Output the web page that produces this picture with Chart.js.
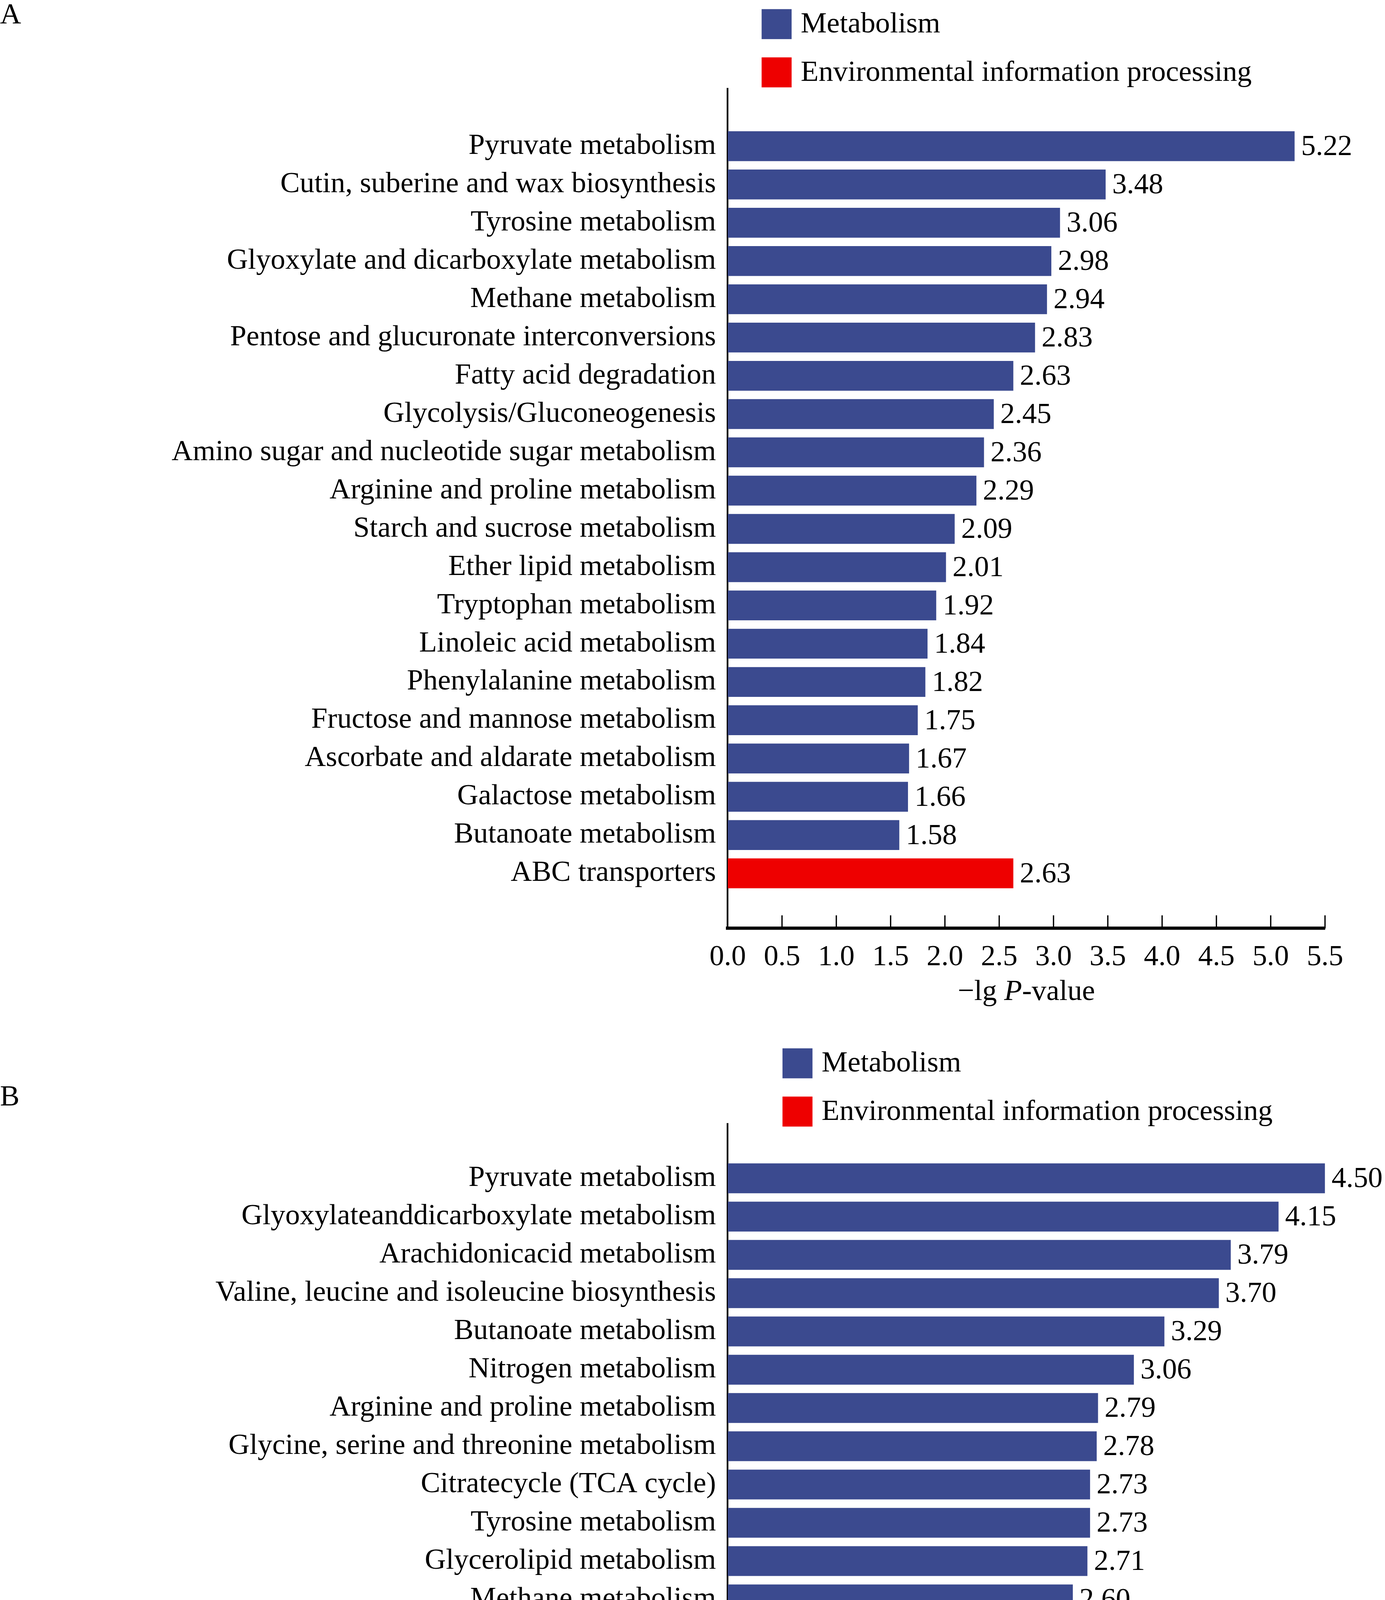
<!DOCTYPE html>
<html><head><meta charset="utf-8">
<script src="https://cdn.jsdelivr.net/npm/chart.js@4"></script>
<style>body{margin:0;background:#fff}canvas{position:absolute;left:0}</style>
</head><body>
<canvas id="cA" style="top:0"></canvas>
<canvas id="cB"></canvas>
<script>
const categoriesA=["Pyruvate metabolism","Cutin, suberine and wax biosynthesis","Tyrosine metabolism","Glyoxylate and dicarboxylate metabolism","Methane metabolism","Pentose and glucuronate interconversions","Fatty acid degradation","Glycolysis/Gluconeogenesis","Amino sugar and nucleotide sugar metabolism","Arginine and proline metabolism","Starch and sucrose metabolism","Ether lipid metabolism","Tryptophan metabolism","Linoleic acid metabolism","Phenylalanine metabolism","Fructose and mannose metabolism","Ascorbate and aldarate metabolism","Galactose metabolism","Butanoate metabolism","ABC transporters"];
const metabolismA=[5.22,3.48,3.06,2.98,2.94,2.83,2.63,2.45,2.36,2.29,2.09,2.01,1.92,1.84,1.82,1.75,1.67,1.66,1.58,null];
const environmentA=[null,null,null,null,null,null,null,null,null,null,null,null,null,null,null,null,null,null,null,2.63];
const categoriesB=["Pyruvate metabolism","Glyoxylateanddicarboxylate metabolism","Arachidonicacid metabolism","Valine, leucine and isoleucine biosynthesis","Butanoate metabolism","Nitrogen metabolism","Arginine and proline metabolism","Glycine, serine and threonine metabolism","Citratecycle (TCA cycle)","Tyrosine metabolism","Glycerolipid metabolism","Methane metabolism","Tryptophan metabolism","Phenylalanine metabolism","Glycolysis/Gluconeogenesis","Linoleic acid metabolism","Ether lipid metabolism","Biosynthesis of siderophore group nonribosomal peptides","Valine, leucine and isoleucine degradation","ABC transporters"];
const metabolismB=[4.50,4.15,3.79,3.70,3.29,3.06,2.79,2.78,2.73,2.73,2.71,2.60,2.51,2.31,2.27,2.26,2.15,1.98,1.76,null];
const environmentB=[null,null,null,null,null,null,null,null,null,null,null,null,null,null,null,null,null,null,null,2.44];
const seriesNames=["Metabolism","Environmental information processing"];
const colors=["#3B4A8F","#EE0000"];

const S=3545/1062;
const FS=22.4*S;
const FONT=`${FS}px "Liberation Serif"`;
function toPts(arr){return arr.map((v,i)=>v==null?null:{x:v,y:i}).filter(p=>p);}

function panel(id,cfg){
  const cv=document.getElementById(id);
  cv.width=Math.round(1062*S);cv.height=Math.round(cfg.h*S);
  cv.style.top=Math.round(cfg.top*S)+'px';
  const deco={id:'deco',afterDraw(ch){
    const c=ch.ctx;c.save();c.fillStyle='#000';c.strokeStyle='#000';
    c.font=FONT;c.textBaseline='middle';c.textAlign='left';
    c.fillText(cfg.letter,0,cfg.letterY*S);
    seriesNames.forEach((n,i)=>{
      const y=(cfg.legY+i*37)*S;
      c.fillStyle=colors[i];c.fillRect(cfg.legX*S,y,23*S,23*S);
      c.fillStyle='#000';c.fillText(n,(cfg.legX+30)*S,y+12*S);
    });
    ch.data.datasets.forEach((ds,di)=>{
      ch.getDatasetMeta(di).data.forEach((el,k)=>{
        c.fillText(ds.data[k].x.toFixed(2),el.x+5*S,el.y+1*S);
      });
    });
    const xs=ch.scales.x,b=ch.chartArea.bottom;
    c.lineWidth=1*S;
    for(let v=0.5;v<=cfg.xMax+1e-9;v+=0.5){
      const px=xs.getPixelForValue(v);
      c.beginPath();c.moveTo(px,b);c.lineTo(px,b-10*S);c.stroke();
    }
    const ty=cfg.titleY*S;
    const p1='\u2212lg ',p2='P',p3='-value';
    const itf=`italic ${FS}px "Liberation Serif"`;
    const w1=c.measureText(p1).width,w3=c.measureText(p3).width;
    c.font=itf;const w2=c.measureText(p2).width;
    let x0=(ch.chartArea.left+ch.chartArea.right)/2-(w1+w2+w3)/2;
    c.font=FONT;c.fillText(p1,x0,ty);
    c.font=itf;c.fillText(p2,x0+w1,ty);
    c.font=FONT;c.fillText(p3,x0+w1+w2,ty);
    c.restore();
  }};
  new Chart(cv,{type:'bar',
    data:{datasets:[
      {label:seriesNames[0],data:toPts(cfg.meta),backgroundColor:colors[0],grouped:false},
      {label:seriesNames[1],data:toPts(cfg.env),backgroundColor:colors[1],grouped:false}]},
    options:{indexAxis:'y',responsive:false,animation:false,devicePixelRatio:1,
      barPercentage:0.78,categoryPercentage:1,
      layout:{padding:{top:cfg.areaTop*S,right:(1062-1016)*S,left:0,bottom:0}},
      plugins:{legend:{display:false},tooltip:{enabled:false}},
      scales:{
        y:{type:'linear',reverse:true,min:cfg.yMin,max:cfg.yMax,
          afterBuildTicks:s=>{s.ticks=cfg.cats.map((_,i)=>({value:i}));},
          afterFit:s=>{s.width=558*S;},
          ticks:{autoSkip:false,callback:v=>cfg.cats[v],color:'#000',font:{family:'Liberation Serif',size:FS},padding:9*S},
          grid:{display:false,drawTicks:false},border:{color:'#000',width:1.3*S}},
        x:{type:'linear',min:0,max:cfg.xMax,
          afterFit:s=>{s.height=(cfg.h-cfg.areaBottom)*S;},
          ticks:{stepSize:0.5,callback:v=>v.toFixed(1),color:'#000',font:{family:'Liberation Serif',size:FS},padding:9*S,maxRotation:0,autoSkip:false},
          grid:{display:false,drawTicks:false},border:{color:'#000',width:2.5*S}}
      }},
    plugins:[deco]});
}
panel('cA',{cats:categoriesA,meta:metabolismA,env:environmentA,xMax:5.5,top:0,h:790,areaTop:68,areaBottom:712,
  yMin:-0.955,yMax:19.89,letter:'A',letterY:12,legX:584,legY:7,titleY:761});
panel('cB',{cats:categoriesB,meta:metabolismB,env:environmentB,xMax:4.5,top:790,h:779.5,areaTop:72,areaBottom:713,
  yMin:-0.874,yMax:19.87,letter:'B',letterY:52,legX:600,legY:14,titleY:763});
</script>
</body></html>
